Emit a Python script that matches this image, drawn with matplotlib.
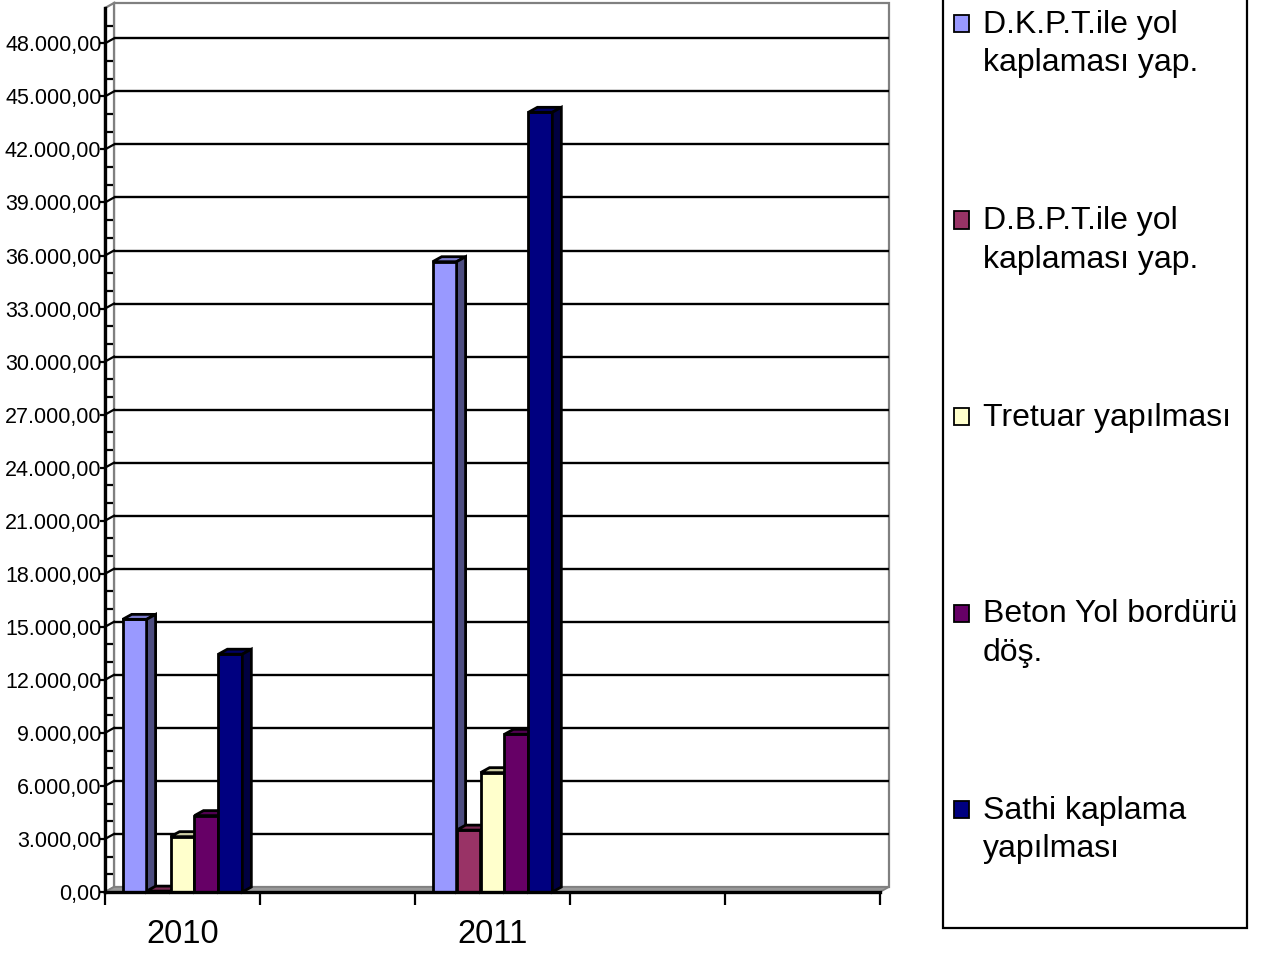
import matplotlib
matplotlib.use("Agg")
import matplotlib.pyplot as plt
from matplotlib.patches import Polygon, Rectangle
from matplotlib.ticker import FuncFormatter, FixedLocator
import numpy as np

plt.rcParams['font.family'] = ['Liberation Sans', 'DejaVu Sans']

# ---- data ----
categories = ["2010", "", "2011", "", ""]
series_names = ["D.K.P.T.ile yol\nkaplaması yap.",
                "D.B.P.T.ile yol\nkaplaması yap.",
                "Tretuar yapılması",
                "Beton Yol bordürü\ndöş.",
                "Sathi kaplama\nyapılması"]
nan = float("nan")
dkpt = [15420, nan, 35650, nan, nan]
dbpt = [50, nan, 3500, nan, nan]
tretuar = [3130, nan, 6750, nan, nan]
beton = [4320, nan, 8920, nan, nan]
sathi = [13450, nan, 44100, nan, nan]
series_values = [dkpt, dbpt, tretuar, beton, sathi]
colors = ["#9999FF", "#993366", "#FFFFCC", "#660066", "#000080"]

W, H = 1261, 956
DPI = 100
fig = plt.figure(figsize=(W / DPI, H / DPI), dpi=DPI)

# front axes (pixel geometry)
ax_l, ax_r, ax_b, ax_t = 105, 880, 892, 8
ax = fig.add_axes([ax_l / W, (H - ax_b) / H, (ax_r - ax_l) / W, (ax_b - ax_t) / H])
ncat = len(categories)
YMAX = 50000
ax.set_xlim(0, ncat)
ax.set_ylim(0, YMAX)
ax.patch.set_alpha(0)

px_x = ncat / (ax_r - ax_l)          # data units per pixel (x)
px_y = YMAX / (ax_b - ax_t)          # data units per pixel (y)
DX = 9 * px_x
DY = 5 * px_y

def shade(c, f):
    r, g, b = matplotlib.colors.to_rgb(c)
    return (r * f, g * f, b * f)

# back wall
ax.add_patch(Polygon([(DX, DY), (ncat + DX, DY), (ncat + DX, YMAX + DY), (DX, YMAX + DY)],
                     closed=True, facecolor="white", edgecolor="#808080", lw=1.6,
                     clip_on=False, zorder=0.5))
# side wall
ax.add_patch(Polygon([(0, 0), (DX, DY), (DX, YMAX + DY), (0, YMAX)], closed=True,
                     facecolor="white", edgecolor="#808080", lw=1.6, clip_on=False, zorder=0.6))
# floor
ax.add_patch(Polygon([(0, 0), (ncat, 0), (ncat + DX, DY), (DX, DY)], closed=True,
                     facecolor="#999999", edgecolor="#808080", lw=1.2, clip_on=False, zorder=0.7))

# gridlines on back wall
for v in range(3000, 48001, 3000):
    ax.plot([DX, ncat + DX], [v + DY, v + DY], color="black", lw=1.7,
            clip_on=False, zorder=0.8, solid_capstyle="butt")
    ax.plot([0, DX], [v, v + DY], color="black", lw=1.6, clip_on=False, zorder=0.9)

# bars
nser = len(series_values)
group_w = 0.772
bw = group_w / nser
for ci in range(ncat):
    start = ci + 0.5 - group_w / 2
    for si in range(nser):
        h = series_values[si][ci]
        if np.isnan(h):
            continue
        c = colors[si]
        x0 = start + si * bw
        x1 = x0 + bw
        z = 2 + ci * 0.1 + si * 0.01
        ax.add_patch(Polygon([(x0, 0), (x1, 0), (x1, h), (x0, h)], closed=True,
                             facecolor=c, edgecolor="black", lw=2.0, zorder=z,
                             joinstyle="miter", clip_on=False))
        ax.add_patch(Polygon([(x0, h), (x1, h), (x1 + DX, h + DY), (x0 + DX, h + DY)],
                             closed=True, facecolor=shade(c, 0.8), edgecolor="black",
                             lw=2.0, zorder=z, clip_on=False))
        ax.add_patch(Polygon([(x1, 0), (x1 + DX, DY), (x1 + DX, h + DY), (x1, h)],
                             closed=True, facecolor=shade(c, 0.5), edgecolor="black",
                             lw=2.0, zorder=z, clip_on=False))

# spines and ticks
for s in ["top", "right"]:
    ax.spines[s].set_visible(False)
ax.spines["left"].set_linewidth(2.4)
ax.spines["bottom"].set_linewidth(2.4)
ax.spines["left"].set_zorder(5)
ax.spines["bottom"].set_zorder(5)

ax.yaxis.set_major_locator(FixedLocator(np.arange(0, 48001, 3000)))
ax.yaxis.set_minor_locator(FixedLocator(np.arange(0, 49001, 1000)))
def fmt(v, pos):
    s = f"{v:,.2f}"
    return s.replace(",", "X").replace(".", ",").replace("X", ".")
ax.yaxis.set_major_formatter(FuncFormatter(fmt))
ax.tick_params(axis="y", which="major", direction="out", length=3.6, width=1.6,
               pad=-1, labelsize=15.5)
ax.tick_params(axis="y", which="minor", direction="in", length=6.0, width=1.6)

ax.xaxis.set_major_locator(FixedLocator(np.arange(0, ncat + 1)))
ax.xaxis.set_minor_locator(FixedLocator(np.arange(ncat) + 0.5))
ax.xaxis.set_major_formatter(FuncFormatter(lambda v, p: ""))
ax.xaxis.set_minor_formatter(FuncFormatter(lambda v, p: categories[int(v)] if 0 <= int(v) < ncat else ""))
ax.tick_params(axis="x", which="major", direction="out", length=9, width=1.6)
ax.tick_params(axis="x", which="minor", length=0, pad=19.5, labelsize=23.5)

# legend (manual, figure pixel coordinates)
def fx(x):
    return x / W
def fy(y):
    return (H - y) / H

fig.add_artist(Rectangle((fx(943), fy(928)), fx(1247) - fx(943), fy(-5) - fy(928),
                         transform=fig.transFigure, facecolor="white",
                         edgecolor="black", lw=1.6, zorder=1))
base0 = 33
step = 196.5
line_sp = 38.4
for i, name in enumerate(series_names):
    bl = base0 + i * step
    fig.add_artist(Rectangle((fx(954), fy(bl - 1)), fx(969) - fx(954), fy(bl - 18) - fy(bl - 1),
                             transform=fig.transFigure, facecolor=colors[i],
                             edgecolor="black", lw=1.3, zorder=2))
    for j, line in enumerate(name.split("\n")):
        fig.text(fx(983), fy(bl + j * line_sp), line, fontsize=23, ha="left",
                 va="baseline", zorder=3)

fig.savefig("out.png", dpi=DPI)
